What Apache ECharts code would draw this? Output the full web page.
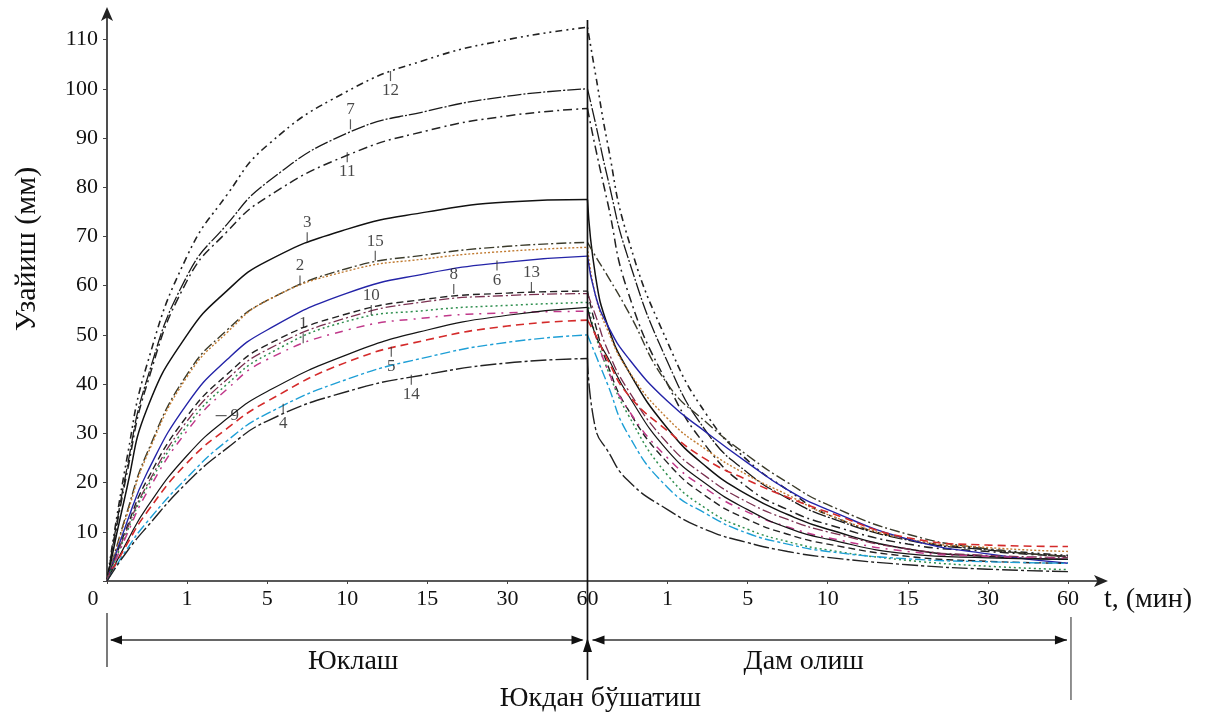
<!DOCTYPE html>
<html>
<head>
<meta charset="utf-8">
<script src="https://cdn.jsdelivr.net/npm/echarts@6/dist/echarts.min.js"></script>
<style>html,body{margin:0;padding:0;background:#fff}#c{width:1217px;height:717px}</style>
</head>
<body>
<div id="c"></div>
<script>
// ---------- DATA ----------
const tickLabels = ['0','1','5','10','15','30','60','1','5','10','15','30','60'];
const curveIds = ['12','7','11','3','15','2','6','8','13','10','1','9','5','4','14'];
const loadX = [0, 0.25, 0.5, 1, 1.5, 2, 3, 4, 5, 6];
const unloadX = [6, 6.1, 6.25, 6.5, 7, 7.5, 8, 8.5, 9, 10, 11, 12];

const load1  = [0, 9.5, 18, 30.5, 39, 45, 51, 53.5, 54.5, 54.8];
const load2  = [0, 13.5, 25.5, 41.5, 50.5, 57, 63, 65.5, 67, 67.8];
const load3  = [0, 19, 35, 50, 59, 65, 71.5, 75, 77, 77.5];
const load4  = [0, 6.5, 12, 21, 28.5, 34, 41, 45.5, 48.5, 50];
const load5  = [0, 7.5, 14, 24, 31, 36.5, 44.5, 49, 51.8, 53];
const load6  = [0, 12, 22, 36, 45, 51, 58.5, 62.5, 64.8, 66];
const load7  = [0, 23, 41, 62, 72.5, 81, 91, 95.5, 98.5, 100];
const load8  = [0, 11, 20.5, 33.5, 42, 48, 54.3, 57.3, 58.5, 58.9];
const load9  = [0, 8, 15, 25.5, 33, 38.5, 46, 51, 54, 55.6];
const load10 = [0, 10, 19, 31.5, 40, 46, 52.8, 55, 56, 56.6];
const load11 = [0, 22, 40, 61, 71, 78, 86.5, 91.5, 94.5, 96];
const load12 = [0, 25, 44, 66, 78.5, 88.5, 99.5, 106, 110, 112.5];
const load13 = [0, 10.5, 19.5, 32.5, 41, 47, 53.5, 56.8, 58, 58.4];
const load14 = [0, 6, 11, 20, 27, 32.5, 38.5, 42, 44.3, 45.2];
const load15 = [0, 14, 26, 42, 51, 57, 63.5, 66.3, 68, 68.8];

const unload1  = [54.8, 50, 43, 35, 25, 18.5, 14, 11, 8.8, 6, 5, 4.6];
const unload2  = [67.8, 58, 51, 43, 33, 26.5, 21.5, 17.5, 13.5, 8.5, 6.8, 6.0];
const unload3  = [77.5, 62, 52, 43, 31, 23, 17.5, 13.5, 10.5, 6.5, 5, 4.4];
const unload4  = [50, 46, 40, 30, 19, 13.5, 9.7, 7.5, 6, 4.5, 3.9, 3.6];
const unload5  = [53, 50, 45, 38, 30.5, 24.5, 20.5, 17, 14, 8.8, 7.3, 7.0];
const unload6  = [66, 58, 52, 45.5, 36.5, 30, 24, 18.5, 14.5, 8.5, 5.5, 3.6];
const unload7  = [100, 93, 82, 66, 44.5, 30, 22, 16.8, 13, 8.3, 6.3, 5.0];
const unload8  = [58.9, 52, 44, 35, 24, 17, 12.5, 9.5, 7.5, 5, 4, 3.6];
const unload9  = [55.6, 50, 45.5, 38, 26.5, 19.5, 14.5, 10.8, 8.5, 5.5, 4.7, 4.4];
const unload10 = [56.6, 50, 43, 34, 21.5, 14.5, 10.5, 8, 6.3, 4.2, 3, 2.3];
const unload11 = [96, 88, 77, 59, 40, 27, 19, 14.5, 11.5, 7.5, 6.0, 5.0];
const unload12 = [112.5, 103, 89, 70, 48.5, 33.5, 24.5, 18.5, 13.5, 8.5, 6.5, 5.2];
const unload13 = [58.4, 54, 47, 39, 28, 21, 16, 12.5, 10, 6.5, 5.2, 4.8];
const unload14 = [45.2, 31, 26.5, 20.5, 14.5, 10.3, 7.8, 6, 4.8, 3.3, 2.4, 1.9];
const unload15 = [68.8, 66, 62, 55, 40, 32, 25.5, 20, 15.5, 9.5, 6.5, 5.0];

// curve-number annotations (label text and the x position on its curve)
const annotIds = ['12','7','11','3','15','2','8','6','13','10','1','5','9','4','14'];
const annotX   = [3.54, 3.04, 3.0, 2.5, 3.35, 2.41, 4.33, 4.87, 5.3, 3.3, 2.45, 3.55, 1.5, 2.2, 3.8];

// ---------- STYLES ----------
const loads = {'1':load1,'2':load2,'3':load3,'4':load4,'5':load5,'6':load6,'7':load7,'8':load8,'9':load9,'10':load10,'11':load11,'12':load12,'13':load13,'14':load14,'15':load15};
const unloads = {'1':unload1,'2':unload2,'3':unload3,'4':unload4,'5':unload5,'6':unload6,'7':unload7,'8':unload8,'9':unload9,'10':unload10,'11':unload11,'12':unload12,'13':unload13,'14':unload14,'15':unload15};
const styles = {
  '12': {color:'#222', type:[2,4,7,4,2,4], width:1.6},
  '7':  {color:'#1a1a1a', type:[14,2,2,2], width:1.3},
  '11': {color:'#222', type:[9,4,2,4], width:1.5},
  '3':  {color:'#111', type:'solid', width:1.5},
  '15': {color:'#3b3b2b', type:[10,3,2,3], width:1.4},
  '2':  {color:'#c07a30', type:[2,2], width:1.4},
  '6':  {color:'#2424a8', type:'solid', width:1.4},
  '8':  {color:'#222', type:[7,4], width:1.4},
  '13': {color:'#7a3050', type:[10,3,2,3], width:1.3},
  '10': {color:'#2f8f4f', type:[2,3], width:1.5},
  '1':  {color:'#c0388a', type:[8,6,2,6], width:1.5},
  '9':  {color:'#151515', type:'solid', width:1.2},
  '5':  {color:'#d42a2a', type:[8,5], width:1.6},
  '4':  {color:'#1e9fd6', type:[10,3,3,3], width:1.4},
  '14': {color:'#222', type:[16,3,3,3], width:1.4}
};
// annotation layout: where tick and label go relative to the curve
const annotSide = {'12':'bottom','7':'top','11':'bottom','3':'top','15':'top','2':'top','8':'top','6':'bottom','13':'top','10':'top','1':'top','5':'bottom','9':'right','4':'bottom','14':'bottom'};

function interp(xs, ys, x){
  for (let i=1;i<xs.length;i++){
    if (x<=xs[i]){ const t=(x-xs[i-1])/(xs[i]-xs[i-1]); return ys[i-1]+t*(ys[i]-ys[i-1]); }
  }
  return ys[ys.length-1];
}

const FONT = '"Liberation Serif", "DejaVu Serif", serif';
const series = [];
curveIds.forEach(id => {
  const st = styles[id];
  const common = {type:'line', showSymbol:false, smooth:0.5, silent:true,
    lineStyle:{color:st.color, width:st.width, type:st.type}, itemStyle:{color:st.color}, z:3};
  series.push(Object.assign({name:'L'+id, data: loadX.map((x,i)=>[x, loads[id][i]])}, common));
  series.push(Object.assign({name:'U'+id, data: unloadX.map((x,i)=>[x, unloads[id][i]])}, common));
});

// annotation scatter (tick + number)
const annotData = annotIds.map((id,i) => {
  const side = annotSide[id];
  const y = interp(loadX, loads[id], annotX[i]) + 0.6;
  let item = {value:[annotX[i], y], name:id};
  if (side==='top'){ item.symbolSize=[1.2,10]; item.symbolOffset=[0,-5]; item.label={position:'top', distance:1}; }
  else if (side==='bottom'){ item.symbolSize=[1.2,10]; item.symbolOffset=[0,5]; item.label={position:'bottom', distance:1}; }
  else { item.symbolSize=[11,1.2]; item.symbolOffset=[-6,0]; item.label={position:'right', distance:4}; }
  return item;
});
series.push({type:'scatter', data:annotData, symbol:'rect', silent:true, z:5,
  itemStyle:{color:'#333'},
  label:{show:true, formatter: p => p.name, color:'#1a1a1a', fontFamily:FONT, fontSize:17}});

const option = {
  animation:false,
  backgroundColor:'#fff',
  grid:{left:107, right:117, top:15, bottom:136, containLabel:false},
  xAxis:{type:'value', min:0, max:12.4, interval:1,
    axisLine:{show:true, lineStyle:{color:'#222', width:1.6}, symbol:['none','arrow'], symbolSize:[9,14], symbolOffset:[0,8]},
    axisTick:{show:true, length:3, lineStyle:{color:'#444'}},
    splitLine:{show:false},
    axisLabel:{showMaxLabel:false, margin:7, color:'#111', fontFamily:FONT, fontSize:22,
      formatter: v => { const k=Math.round(v); if (Math.abs(v-k)>1e-6) return ''; return k===0 ? '{z|0}' : tickLabels[k]; },
      rich:{z:{padding:[0,28,0,0], fontFamily:FONT, fontSize:22, color:'#111'}}},
    name:'t, (мин)', nameLocation:'end', nameGap:4,
    nameTextStyle:{fontFamily:FONT, fontSize:28, color:'#111', verticalAlign:'top', align:'left', padding:[5,0,0,0]}
  },
  yAxis:{type:'value', min:0, max:115, interval:10,
    axisLine:{show:true, lineStyle:{color:'#222', width:1.6}, symbol:['none','arrow'], symbolSize:[9,14], symbolOffset:[0,8]},
    axisTick:{show:true, length:4, lineStyle:{color:'#444'}},
    splitLine:{show:false},
    axisLabel:{showMaxLabel:false, margin:9, color:'#111', fontFamily:FONT, fontSize:22,
      formatter: v => (v===0 ? '' : String(v))}
  },
  series: series
};

const chart = echarts.init(document.getElementById('c'), null, {renderer:'canvas'});
chart.setOption(option);

// overlay annotations tied to axis positions
const P = (x,y) => chart.convertToPixel({gridIndex:0}, [x,y]);
const o = P(0,0), m = P(6,0), e = P(12,0), topPt = P(6,114);
const ay = o[1] + 59;
const black = '#111';
function arrowHead(x, y, dir){ // dir: 'l','r','u'
  let pts;
  if (dir==='l') pts=[[x,y],[x+12,y-4.5],[x+12,y+4.5]];
  else if (dir==='r') pts=[[x,y],[x-12,y-4.5],[x-12,y+4.5]];
  else pts=[[x,y],[x-4.5,y+14],[x+4.5,y+14]];
  return {type:'polygon', shape:{points:pts}, style:{fill:black}, silent:true};
}
const g = [
  {type:'line', shape:{x1:m[0], y1:topPt[1], x2:m[0], y2:o[1]+99}, style:{stroke:black, lineWidth:1.7}, silent:true, z:10},
  arrowHead(m[0], o[1]+57, 'u'),
  {type:'line', shape:{x1:o[0], y1:o[1]+32, x2:o[0], y2:o[1]+86}, style:{stroke:'#333', lineWidth:1.3}, silent:true},
  {type:'line', shape:{x1:o[0]+4, y1:ay, x2:m[0]-5, y2:ay}, style:{stroke:'#333', lineWidth:1.5}, silent:true},
  arrowHead(o[0]+3, ay, 'l'), arrowHead(m[0]-4, ay, 'r'),
  {type:'line', shape:{x1:m[0]+5, y1:ay, x2:e[0]-1, y2:ay}, style:{stroke:'#333', lineWidth:1.5}, silent:true},
  arrowHead(m[0]+5, ay, 'l'), arrowHead(e[0]-1, ay, 'r'),
  {type:'line', shape:{x1:e[0]+3, y1:o[1]+36, x2:e[0]+3, y2:o[1]+119}, style:{stroke:'#555', lineWidth:1.3}, silent:true},
  {type:'text', x:(o[0]+m[0])/2+6, y:o[1]+81, style:{text:'Юклаш', font:'28px '+FONT, fill:'#111', align:'center', verticalAlign:'middle'}, silent:true},
  {type:'text', x:(m[0]+e[0])/2-24, y:o[1]+81, style:{text:'Дам олиш', font:'28px '+FONT, fill:'#111', align:'center', verticalAlign:'middle'}, silent:true},
  {type:'text', x:m[0]+13, y:o[1]+118, style:{text:'Юкдан бўшатиш', font:'28px '+FONT, fill:'#111', align:'center', verticalAlign:'middle'}, silent:true},
  {type:'text', x:27, y:249, rotation:Math.PI/2, style:{text:'Узайиш (мм)', font:'30px '+FONT, fill:'#111', align:'center', verticalAlign:'middle'}, silent:true}
];
chart.setOption({graphic:g});
</script>
</body>
</html>
